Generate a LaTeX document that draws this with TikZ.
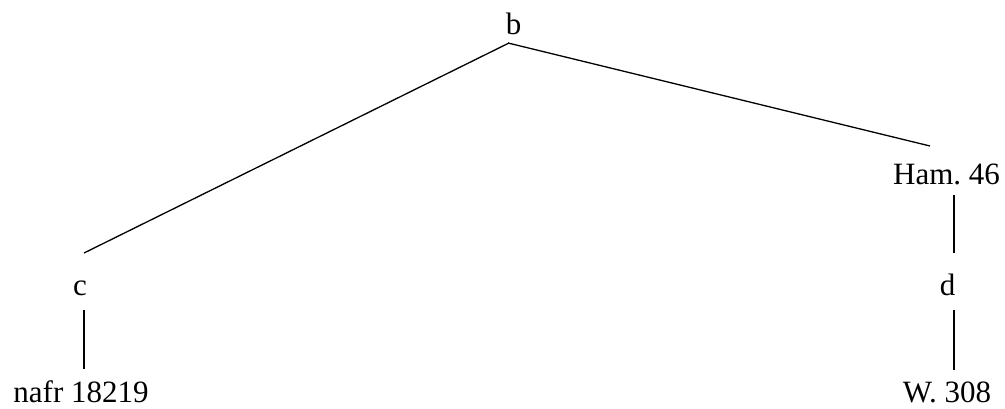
\documentclass[tikz,border=0pt]{standalone}
\usepackage{fontspec}
\setmainfont{Liberation Serif}
\frenchspacing
\begin{document}
\begin{tikzpicture}[x=1pt,y=1pt,
  lbl/.style={anchor=base,inner sep=0pt,font=\fontsize{31}{37}\selectfont},
  edge/.style={line width=1.3pt}]
\useasboundingbox (0,0) rectangle (1005,408);
\node[lbl] (b) at (513.5,373) {b};
\node[lbl] (ham) at (946.5,224) {Ham. 46};
\node[lbl] (c) at (80,113) {c};
\node[lbl] (d) at (947.5,113) {d};
\node[lbl] (nafr) at (81,6) {nafr 18219};
\node[lbl] (w) at (947,6) {W. 308};
\draw[edge] ([shift={(-4.5,-8)}]b.base) -- ([shift={(4,42)}]c.base);
\draw[edge] ([shift={(-5.5,-8)}]b.base) -- ([shift={(-16.5,38)}]ham.base);
\draw[edge] ([shift={(7.5,-11)}]ham.base) -- ([shift={(6.5,42)}]d.base);
\draw[edge] ([shift={(6.5,-15)}]d.base) -- ([shift={(7,32)}]w.base);
\draw[edge] ([shift={(4,-15)}]c.base) -- ([shift={(3,33)}]nafr.base);
\end{tikzpicture}
\end{document}
